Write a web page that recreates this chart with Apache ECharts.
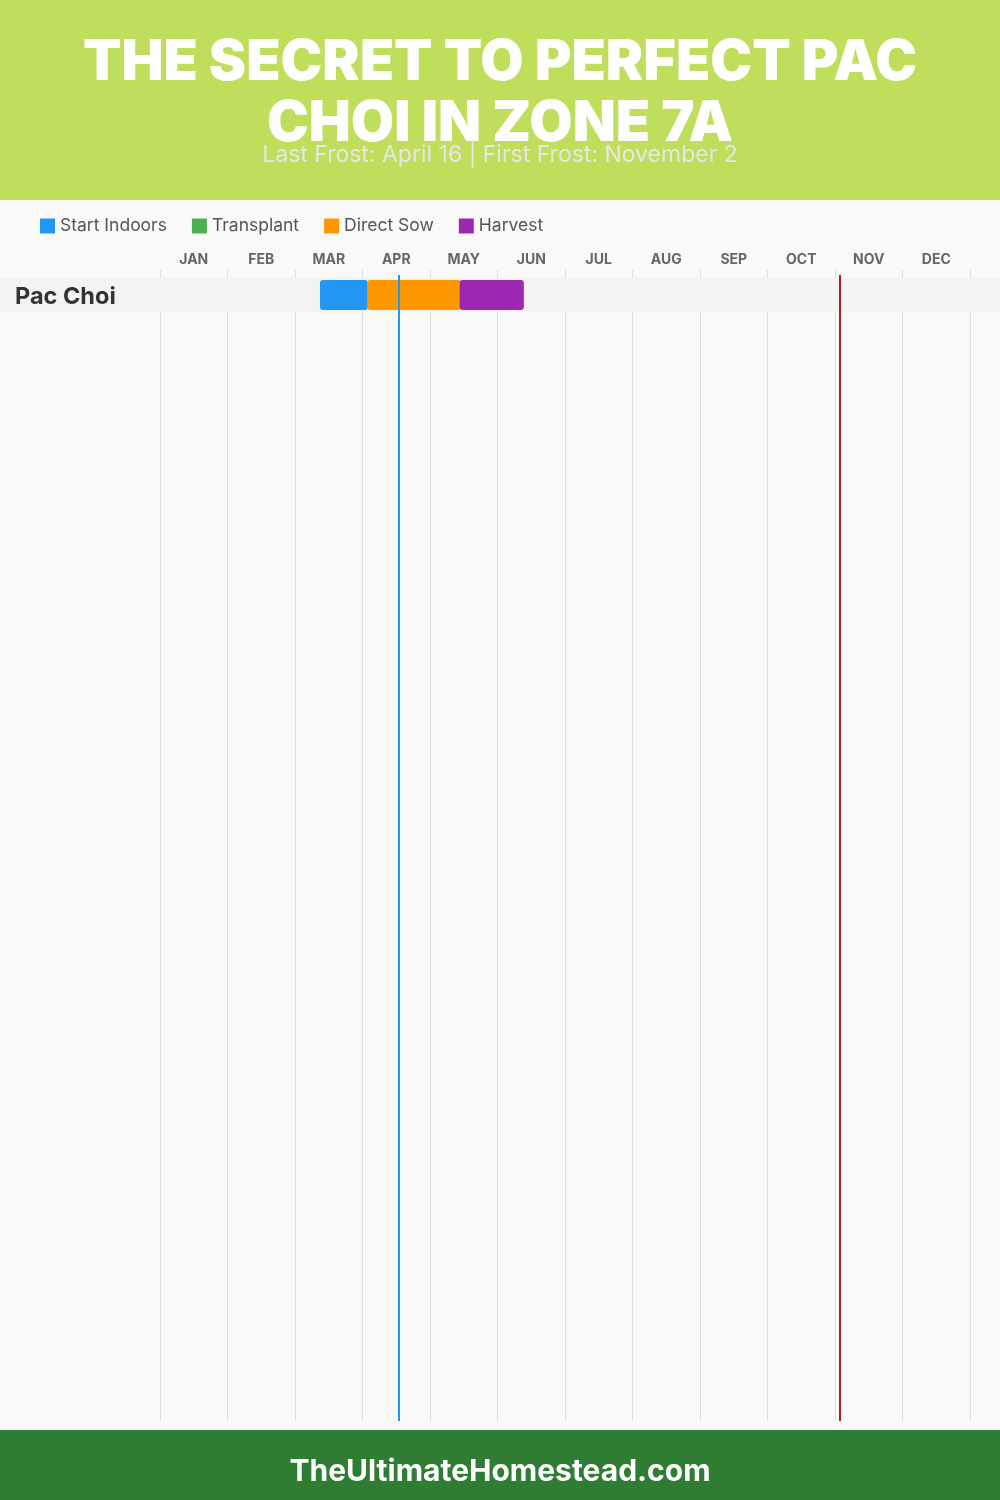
<!DOCTYPE html>
<html>
<head>
<meta charset="utf-8">
<script src="https://cdn.jsdelivr.net/npm/echarts@6/dist/echarts.min.js"></script>
<style>
html,body{margin:0;padding:0;background:#f9f9f7;}
#chart{width:1000px;height:1500px;}
</style>
</head>
<body>
<div id="chart"></div>
<script>
// ---- data ----
const months = ['JAN','FEB','MAR','APR','MAY','JUN','JUL','AUG','SEP','OCT','NOV','DEC'];
const crops = ['Pac Choi'];
// [start, end] in months from Jan 1 (0..12), one entry per crop row
const startIndoors = [[2.37, 3.08]];
const transplant = [];
const directSow = [[3.07, 4.46]];
const harvest = [[4.44, 5.39]];
const lastFrost = 3.54;   // April 16
const firstFrost = 10.07; // November 2
const titleLines = ['THE SECRET TO PERFECT PAC', 'CHOI IN ZONE 7A'];
const subtitleText = 'Last Frost: April 16 | First Frost: November 2';
const footerText = 'TheUltimateHomestead.com';

// ---- layout ----
const FONT = 'Inter, "Noto Sans", sans-serif';
const gridTop = 270, gridBottom = 79, rowPx = 34, rowOffset = 8;
const plotH = 1500 - gridTop - gridBottom;
const yMin = -rowOffset / rowPx;
const yMax = yMin + plotH / rowPx;

const phases = [
  {name: 'Start Indoors', color: '#2196F3', data: startIndoors},
  {name: 'Transplant', color: '#4CAF50', data: transplant},
  {name: 'Direct Sow', color: '#FF9800', data: directSow},
  {name: 'Harvest', color: '#9C27B0', data: harvest}
];

const chart = echarts.init(document.getElementById('chart'), null, {renderer: 'canvas'});

const phaseSeries = phases.map(p => ({
  type: 'custom',
  name: p.name,
  xAxisIndex: 0, yAxisIndex: 0,
  itemStyle: {color: p.color},
  encode: {x: [0, 1], y: 2},
  data: p.data.map((d, i) => [d[0], d[1], i]),
  z: 3,
  renderItem: function (params, api) {
    const a = api.coord([api.value(0), api.value(2)]);
    const b = api.coord([api.value(1), api.value(2) + 1]);
    return {
      type: 'rect',
      shape: {x: a[0], y: a[1] + 2, width: b[0] - a[0], height: b[1] - a[1] - 4, r: 3},
      style: {fill: p.color}
    };
  }
}));

const option = {
  backgroundColor: '#f9f9f7',
  animation: false,
  graphic: [
    {type: 'rect', left: 0, top: 0, shape: {width: 1000, height: 200}, style: {fill: '#bfde5b'}, z: -10},
    {type: 'rect', left: 0, top: 1430, shape: {width: 1000, height: 70}, style: {fill: '#2e7d32'}, z: -10},
    {type: 'text', x: 500, y: 63, z: 5,
     style: {text: titleLines[0], align: 'center', verticalAlign: 'middle', fill: '#ffffff', font: '900 56px ' + FONT}},
    {type: 'text', x: 500, y: 124, z: 5,
     style: {text: titleLines[1], align: 'center', verticalAlign: 'middle', fill: '#ffffff', font: '900 56px ' + FONT}},
    {type: 'text', x: 500, y: 155, z: 6,
     style: {text: subtitleText, align: 'center', verticalAlign: 'middle', fill: '#e6e6e6', font: '400 23px ' + FONT}},
    {type: 'text', x: 500, y: 1472, z: 5,
     style: {text: footerText, align: 'center', verticalAlign: 'middle', fill: '#ffffff', font: '700 30px ' + FONT}}
  ],
  legend: {
    left: 40, top: 217, padding: 0, itemWidth: 15, itemHeight: 15, itemGap: 25, icon: 'rect',
    data: phases.map(p => p.name),
    textStyle: {fontFamily: FONT, fontSize: 17.5, color: '#555'}
  },
  grid: {left: 160, right: 30, top: gridTop, bottom: gridBottom},
  xAxis: [
    {type: 'value', min: 0, max: 12, interval: 1,
     axisLine: {show: false}, axisTick: {show: false}, axisLabel: {show: false},
     splitLine: {show: true, lineStyle: {color: '#dedede', width: 1}}},
    {type: 'category', data: months, position: 'top', boundaryGap: true,
     axisLine: {show: false}, axisTick: {show: false}, splitLine: {show: false},
     axisLabel: {fontFamily: FONT, fontWeight: 700, fontSize: 14, color: '#666', margin: 3}}
  ],
  yAxis: {type: 'value', inverse: true, min: yMin, max: yMax, show: false},
  series: [
    {
      type: 'custom',
      name: 'rows',
      xAxisIndex: 0, yAxisIndex: 0,
      encode: {y: 0},
      data: crops.map((c, i) => [i]),
      z: 2,
      renderItem: function (params, api) {
        const r = api.value(0);
        const y0 = api.coord([0, r])[1];
        const y1 = api.coord([0, r + 1])[1];
        return {
          type: 'group',
          children: [
            {type: 'rect', shape: {x: 0, y: y0, width: api.getWidth(), height: y1 - y0}, style: {fill: '#f3f3f3'}},
            {type: 'text', x: 15, y: (y0 + y1) / 2 + 2,
             style: {text: crops[r], fill: '#333', font: '700 23.5px ' + FONT, verticalAlign: 'middle', align: 'left'}}
          ]
        };
      }
    },
    ...phaseSeries,
    {
      type: 'line',
      name: 'frost',
      xAxisIndex: 0, yAxisIndex: 0,
      data: [],
      markLine: {
        silent: true, symbol: 'none', label: {show: false}, z: 10,
        data: [
          [{coord: [lastFrost, -0.09], lineStyle: {color: '#2196F3', width: 2, type: 'solid'}}, {coord: [lastFrost, yMax]}],
          [{coord: [firstFrost, -0.09], lineStyle: {color: '#b71c1c', width: 2, type: 'solid'}}, {coord: [firstFrost, yMax]}]
        ]
      }
    }
  ]
};
chart.setOption(option);
</script>
</body>
</html>
